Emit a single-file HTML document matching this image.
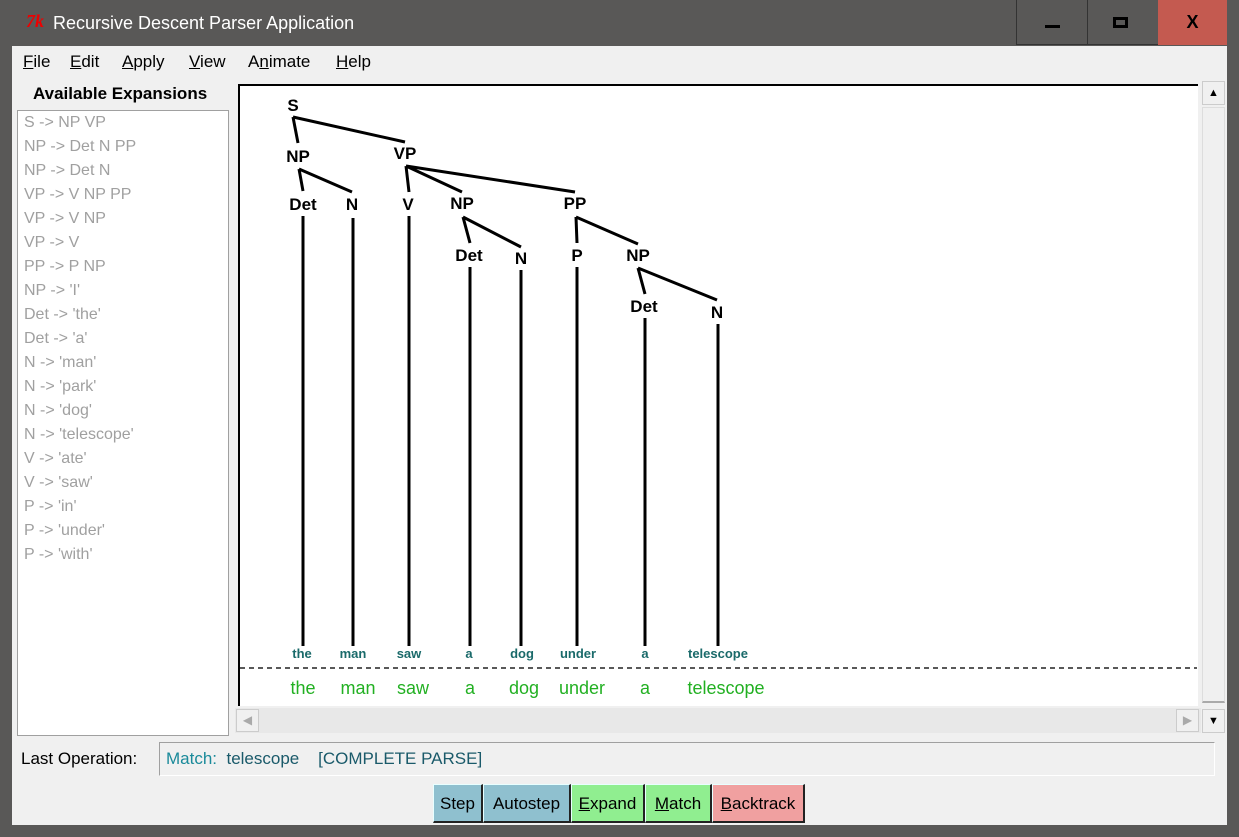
<!DOCTYPE html>
<html><head><meta charset="utf-8"><style>
*{margin:0;padding:0;box-sizing:border-box}
body{width:1239px;height:837px;background:#595857;position:relative;overflow:hidden;font-family:"Liberation Sans",sans-serif}
.a{position:absolute}
.menu span{position:absolute;top:52px;font-size:17px;color:#000}
.lb div{position:absolute;left:6px;font-size:16px;color:#a0a0a0;line-height:24px;white-space:nowrap}
.btn{position:absolute;top:784px;height:39px;font-size:17px;text-align:center;line-height:38px;border-left:1px solid #e8ffff;border-top:1px solid #e8ffff;border-right:2px solid #222;border-bottom:2px solid #222}
</style></head><body>
<div class="a" style="left:0;top:0;width:1239px;height:46px;background:#595857"></div>
<div class="a" style="left:26px;top:11px;color:#e00;font-style:italic;font-weight:bold;font-size:18px;font-family:'Liberation Serif',serif">7k</div>
<div class="a" style="left:53px;top:13px;color:#fff;font-size:18px">Recursive Descent Parser Application</div>
<div class="a" style="left:1016px;top:0;width:142px;height:45px;border-left:1px solid #333;border-bottom:1px solid #333"></div>
<div class="a" style="left:1087px;top:0;width:1px;height:45px;background:#333"></div>
<div class="a" style="left:1045px;top:25px;width:15px;height:3px;background:#000"></div>
<div class="a" style="left:1113px;top:17px;width:15px;height:11px;border:3px solid #000"></div>
<div class="a" style="left:1158px;top:0;width:69px;height:45px;background:#c45a50;font-size:18px;font-weight:bold;text-align:center;line-height:45px;color:#000">X</div>
<div class="a" style="left:12px;top:46px;width:1215px;height:779px;background:#f0f0f0"></div>
<div class="menu">
<span style="left:23px"><u>F</u>ile</span><span style="left:70px"><u>E</u>dit</span><span style="left:122px"><u>A</u>pply</span><span style="left:189px"><u>V</u>iew</span><span style="left:248px">A<u>n</u>imate</span><span style="left:336px"><u>H</u>elp</span>
</div>
<div class="a" style="left:33px;top:84px;font-size:17px;font-weight:bold">Available Expansions</div>
<div class="a lb" style="left:17px;top:110px;width:212px;height:626px;background:#fff;border:1px solid #a0a0a0">
<div style="top:0">S -&gt; NP VP</div><div style="top:24px">NP -&gt; Det N PP</div><div style="top:48px">NP -&gt; Det N</div><div style="top:72px">VP -&gt; V NP PP</div><div style="top:96px">VP -&gt; V NP</div><div style="top:120px">VP -&gt; V</div><div style="top:144px">PP -&gt; P NP</div><div style="top:168px">NP -&gt; 'I'</div><div style="top:192px">Det -&gt; 'the'</div><div style="top:216px">Det -&gt; 'a'</div><div style="top:240px">N -&gt; 'man'</div><div style="top:264px">N -&gt; 'park'</div><div style="top:288px">N -&gt; 'dog'</div><div style="top:312px">N -&gt; 'telescope'</div><div style="top:336px">V -&gt; 'ate'</div><div style="top:360px">V -&gt; 'saw'</div><div style="top:384px">P -&gt; 'in'</div><div style="top:408px">P -&gt; 'under'</div><div style="top:432px">P -&gt; 'with'</div>
</div>
<div class="a" style="left:238px;top:84px;width:960px;height:622px;background:#fff;border-left:2px solid #000;border-top:2px solid #000"></div>
<svg class="a" style="left:0;top:0" width="1239" height="837">
<g stroke="#000" stroke-width="3" fill="none">
<path d="M293 117L298 143M293 117L405 142M299 169L303 191M299 169L352 192M406 166L409 192M406 166L462 192M406 166L575 192M463 217L470 243M463 217L521 247M576 217L577 243M576 217L638 244M638 268L645 294M638 268L717 300"/>
<path d="M303 216V646M353 218V646M409 216V646M470 267V646M521 270V646M577 267V646M645 318V646M718 324V646"/>
</g>
<line x1="240" y1="668" x2="1197" y2="668" stroke="#222" stroke-width="1.5" stroke-dasharray="5,4"/>
<g font-family="Liberation Sans,sans-serif" font-weight="bold" font-size="17" text-anchor="middle" fill="#000">
<text x="293" y="111">S</text><text x="298" y="162">NP</text><text x="405" y="159">VP</text>
<text x="303" y="210">Det</text><text x="352" y="210">N</text><text x="408" y="210">V</text><text x="462" y="209">NP</text><text x="575" y="209">PP</text>
<text x="469" y="261">Det</text><text x="521" y="264">N</text><text x="577" y="261">P</text><text x="638" y="261">NP</text>
<text x="644" y="312">Det</text><text x="717" y="318">N</text>
</g>
<g font-family="Liberation Sans,sans-serif" font-weight="bold" font-size="13" text-anchor="middle" fill="#1a6a6a">
<text x="302" y="658">the</text><text x="353" y="658">man</text><text x="409" y="658">saw</text><text x="469" y="658">a</text><text x="522" y="658">dog</text><text x="578" y="658">under</text><text x="645" y="658">a</text><text x="718" y="658">telescope</text>
</g>
<g font-family="Liberation Sans,sans-serif" font-size="18" text-anchor="middle" fill="#22b022">
<text x="303" y="694">the</text><text x="358" y="694">man</text><text x="413" y="694">saw</text><text x="470" y="694">a</text><text x="524" y="694">dog</text><text x="582" y="694">under</text><text x="645" y="694">a</text><text x="726" y="694">telescope</text>
</g>
</svg>
<div class="a" style="left:235px;top:708px;width:966px;height:25px;background:#e8e8e8"></div>
<div class="a" style="left:236px;top:709px;width:23px;height:23px;background:#f0f0f0;border:1px solid #ccc;color:#aaa;font-size:12px;text-align:center;line-height:21px">◀</div>
<div class="a" style="left:1176px;top:709px;width:23px;height:23px;background:#f0f0f0;border:1px solid #ccc;color:#aaa;font-size:12px;text-align:center;line-height:21px">▶</div>
<div class="a" style="left:1201px;top:82px;width:25px;height:651px;background:#f0f0f0"></div>
<div class="a" style="left:1202px;top:81px;width:23px;height:24px;background:#f0f0f0;border:1px solid #ccc;font-size:11px;text-align:center;line-height:22px">▲</div>
<div class="a" style="left:1202px;top:107px;width:23px;height:596px;background:#f0f0f0;border:1px solid #ddd;border-bottom:2px solid #aaa"></div>
<div class="a" style="left:1202px;top:709px;width:23px;height:24px;background:#f0f0f0;border:1px solid #ccc;font-size:11px;text-align:center;line-height:22px">▼</div>
<div class="a" style="left:21px;top:749px;font-size:17px">Last Operation:</div>
<div class="a" style="left:159px;top:742px;width:1056px;height:34px;border:1px solid #a0a0a0;border-right-color:#fff;border-bottom-color:#fff;font-size:17px;line-height:32px;padding-left:6px;white-space:pre"><span style="color:#1a8a9a">Match:</span><span style="color:#1a5a6a">  telescope    [COMPLETE PARSE]</span></div>
<div class="btn" style="left:433px;width:50px;background:#8fc0cf">Step</div>
<div class="btn" style="left:483px;width:88px;background:#8fc0cf">Autostep</div>
<div class="btn" style="left:571px;width:74px;background:#90ee90"><u>E</u>xpand</div>
<div class="btn" style="left:645px;width:67px;background:#90ee90"><u>M</u>atch</div>
<div class="btn" style="left:712px;width:93px;background:#f0a0a0"><u>B</u>acktrack</div>
</body></html>
